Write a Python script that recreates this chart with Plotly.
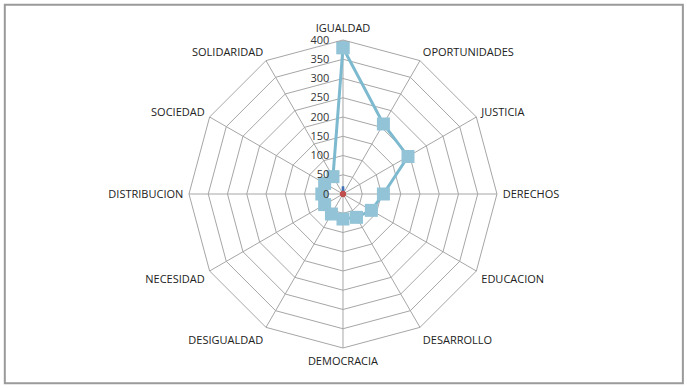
import plotly.graph_objects as go

categories = ["IGUALDAD", "OPORTUNIDADES", "JUSTICIA", "DERECHOS", "EDUCACION",
              "DESARROLLO", "DEMOCRACIA", "DESIGUALDAD", "NECESIDAD",
              "DISTRIBUCION", "SOCIEDAD", "SOLIDARIDAD"]
main_values = [380, 210, 195, 105, 85, 70, 65, 60, 55, 55, 55, 52]
minor_blue = [20, 2, 2, 1, 1, 1, 1, 1, 1, 1, 1, 1]
minor_red = [3, 3, 3, 3, 3, 3, 3, 3, 3, 3, 3, 3]
radial_ticks = [0, 50, 100, 150, 200, 250, 300, 350, 400]

def closed(v):
    return list(v) + [v[0]]

fig = go.Figure()
fig.add_trace(go.Scatterpolar(
    r=closed(minor_blue), theta=closed(categories), mode="lines",
    line=dict(color="#3F6FB5", width=2.5), showlegend=False))
fig.add_trace(go.Scatterpolar(
    r=closed(minor_red), theta=closed(categories), mode="lines+markers",
    line=dict(color="#C0504D", width=1.5),
    marker=dict(color="#C0504D", size=4), showlegend=False))
fig.add_trace(go.Scatterpolar(
    r=closed(main_values), theta=closed(categories), mode="lines+markers",
    line=dict(color="#7DBAD0", width=3),
    marker=dict(symbol="square", size=13, color="#93C3D6"),
    showlegend=False))

pad = "\u00a0" * 4
fig.update_layout(
    width=687, height=388,
    margin=dict(l=0, r=0, t=0, b=0),
    paper_bgcolor="white",
    font=dict(family="Open Sans, Noto Sans, sans-serif", size=11, color="#333333"),
    polar=dict(
        domain=dict(x=[0.2751, 0.7234], y=[0.1031, 0.8969]),
        bgcolor="white",
        gridshape="linear",
        radialaxis=dict(
            range=[0, 400], tickvals=radial_ticks,
            ticktext=[f"{t}{pad}" for t in radial_ticks],
            angle=90, tickangle=90,
            side="counterclockwise",
            showline=False, gridcolor="#A6A6A6", gridwidth=1,
            ticks="", tickfont=dict(size=11, color="#333333")),
        angularaxis=dict(
            rotation=90, direction="clockwise",
            showline=True, linecolor="#A6A6A6", linewidth=1,
            gridcolor="#A6A6A6", gridwidth=1,
            ticks="outside", ticklen=3, tickcolor="rgba(0,0,0,0)",
            tickfont=dict(size=11, color="#222222")),
    ),
    shapes=[dict(type="rect", xref="paper", yref="paper",
                 x0=0.007, y0=0.012, x1=0.994, y1=0.988,
                 line=dict(color="#9A9A9A", width=2))],
)

fig.write_html("out.html", config={"displayModeBar": False},
               post_script="document.body.style.margin='0';document.body.style.overflow='hidden';")
